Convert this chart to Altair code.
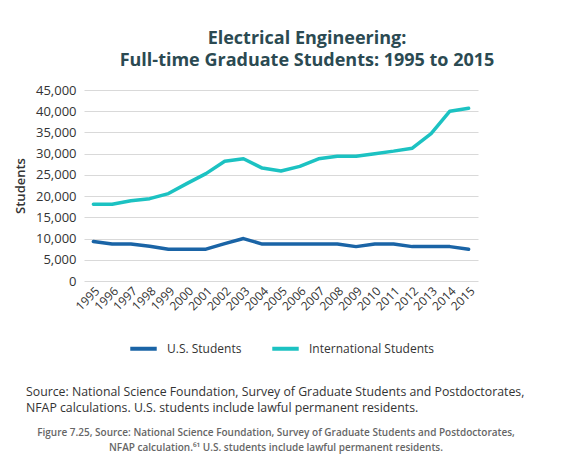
import pandas as pd
import altair as alt

years = list(range(1995, 2016))
us_students = [9300, 8700, 8700, 8200, 7500, 7500, 7500, 8800, 10000, 8700, 8700,
               8700, 8700, 8700, 8100, 8700, 8700, 8100, 8100, 8100, 7500]
intl_students = [18100, 18100, 18900, 19400, 20600, 23000, 25300, 28200, 28800, 26600, 25900,
                 27000, 28800, 29400, 29400, 30000, 30600, 31300, 34700, 40000, 40700]
series = ["U.S. Students", "International Students"]
colors = ["#1a64a6", "#1cc2c2"]

source_lines = [
    "Source: National Science Foundation, Survey of Graduate Students and Postdoctorates,",
    "NFAP calculations. U.S. students include lawful permanent residents.",
]
caption_lines = [
    "Figure 7.25, Source: National Science Foundation, Survey of Graduate Students and Postdoctorates,",
    "NFAP calculation.\u2076\u00b9 U.S. students include lawful permanent residents.",
]

df = pd.concat([
    pd.DataFrame({"Year": years, "Students": us_students, "Series": series[0]}),
    pd.DataFrame({"Year": years, "Students": intl_students, "Series": series[1]}),
])
df["Year"] = df["Year"].astype(str)

FONT = "Open Sans"

lines = alt.Chart(df).mark_line(strokeWidth=3.5, strokeCap="round", strokeJoin="round").encode(
    x=alt.X("Year:N", title=None,
            scale=alt.Scale(type="point", padding=0.5),
            axis=alt.Axis(labelAngle=-45, labelFontSize=12, labelColor="#333333",
                          labelFont=FONT, domain=False, ticks=False, grid=False,
                          labelPadding=4)),
    y=alt.Y("Students:Q", title="Students",
            scale=alt.Scale(domain=[0, 45000]),
            axis=alt.Axis(values=list(range(0, 45001, 5000)), format=",d",
                          labelFontSize=13, labelColor="#333333", labelFont=FONT,
                          titleFont=FONT, titleFontSize=13, titleFontWeight=600,
                          titleColor="#333333", titlePadding=8,
                          domain=False, ticks=False, gridColor="#d9d9d9", labelPadding=8)),
    color=alt.Color("Series:N", scale=alt.Scale(domain=series, range=colors),
                    legend=alt.Legend(title=None, orient="none", legendX=44, legendY=243,
                                      direction="horizontal", symbolType="stroke",
                                      symbolStrokeWidth=4, symbolSize=700,
                                      labelFont=FONT, labelFontSize=12, labelColor="#333333",
                                      columnPadding=22, labelOffset=8)),
)


def note(text, x, y, size, color, align="left", weight="normal"):
    return alt.Chart(pd.DataFrame({"t": [text]})).mark_text(
        align=align, baseline="middle", font=FONT, fontSize=size,
        color=color, fontWeight=weight,
    ).encode(text="t:N", x=alt.value(x), y=alt.value(y))


notes = [
    note(source_lines[0], -58, 302, 12.3, "#333333"),
    note(source_lines[1], -58, 318, 12.3, "#333333"),
    note(caption_lines[0], 192, 343, 10, "#666666", align="center", weight=600),
    note(caption_lines[1], 192, 358, 10, "#666666", align="center", weight=600),
]

chart = alt.layer(lines, *notes).properties(
    width=394,
    height=191,
    autosize=alt.AutoSizeParams(type="none"),
    padding={"left": 76, "top": 82, "right": 85, "bottom": 180},
    title=alt.Title(["Electrical Engineering:", "Full-time Graduate Students: 1995 to 2015"],
                    font=FONT, fontSize=18, fontWeight="bold", color="#2b4a52",
                    anchor="middle", dx=26, offset=14, lineHeight=22),
).configure_view(stroke=None)

chart.save("out.html", embed_options={"renderer": "svg", "actions": False})
